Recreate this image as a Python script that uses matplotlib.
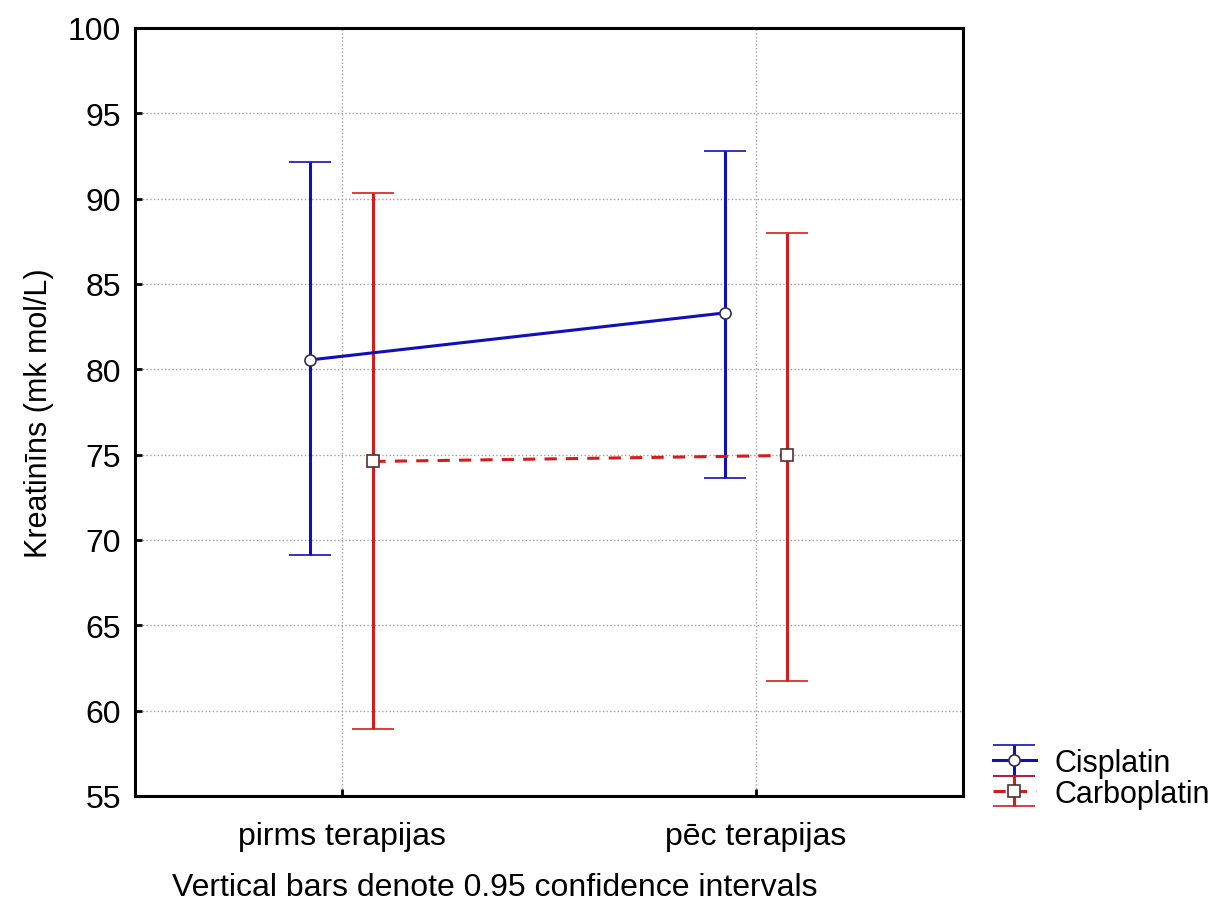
import numpy as np
import matplotlib.pyplot as plt

plt.rcParams['font.family'] = ['Liberation Sans', 'DejaVu Sans']

categories = ['pirms terapijas', 'pēc terapijas']
cis_mean = [80.55, 83.3]
cis_low = [69.1, 73.65]
cis_high = [92.15, 92.8]
carb_mean = [74.6, 74.95]
carb_low = [58.95, 61.75]
carb_high = [90.3, 88.0]

blue = '#1010b8'
red = '#d41c1c'

fig = plt.figure(figsize=(12.19, 9.03), dpi=100)
ax = fig.add_axes([0.1107, 0.1174, 0.6793, 0.8506])

x = np.arange(len(categories))
off = 0.076

cis_err = [np.array(cis_mean) - np.array(cis_low), np.array(cis_high) - np.array(cis_mean)]
carb_err = [np.array(carb_mean) - np.array(carb_low), np.array(carb_high) - np.array(carb_mean)]

h1 = ax.errorbar(x - off, cis_mean, yerr=cis_err, color=blue, linewidth=2.2,
                 elinewidth=2.2, capsize=15, capthick=2.8, marker='o', markersize=8,
                 markerfacecolor='white', markeredgecolor='#303050', markeredgewidth=1.2,
                 label='Cisplatin', zorder=3)
h2 = ax.errorbar(x + off, carb_mean, yerr=carb_err, color=red, linewidth=2.2,
                 linestyle='--', dashes=(4, 3), elinewidth=2.2, capsize=15, capthick=2.8,
                 marker='s', markersize=9, markerfacecolor='white',
                 markeredgecolor='#503030', markeredgewidth=1.2,
                 label='Carboplatin', zorder=3)

ax.set_xlim(-0.5, 1.5)
ax.set_ylim(55, 100)
ax.set_yticks(np.arange(55, 101, 5))
ax.set_xticks(x)
ax.set_xticklabels(categories, fontsize=23)
ax.tick_params(axis='y', labelsize=23, direction='in', length=5, width=2, pad=10)
ax.tick_params(axis='x', direction='in', length=5, width=2, pad=18)
ax.grid(True, linestyle=':', color='#a0a0a0', linewidth=1)
for s in ax.spines.values():
    s.set_linewidth(2.2)
ax.set_ylabel('Kreatinīns (mk mol/L)', fontsize=22, labelpad=10)

fig.legend(handles=[h1, h2], loc='lower left', bbox_to_anchor=(0.792, 0.073),
           frameon=False, fontsize=22, handlelength=1.4, handletextpad=0.6,
           labelspacing=0.02)

fig.text(0.141, 0.008, 'Vertical bars denote 0.95 confidence intervals', fontsize=23)

fig.savefig('out.png', dpi=100)
